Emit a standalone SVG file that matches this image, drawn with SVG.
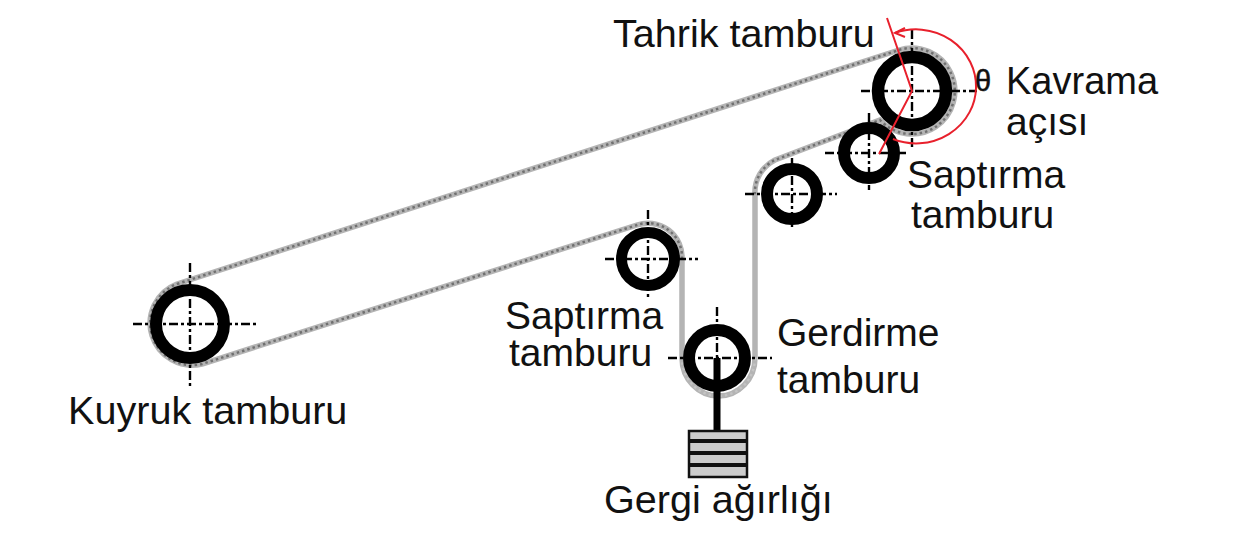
<svg xmlns="http://www.w3.org/2000/svg" width="1233" height="541" viewBox="0 0 1233 541">
<style>
text{font-family:"Liberation Sans",Arial,sans-serif;font-size:39px;fill:#111}
.wide{font-size:39.6px}
.narrow{font-size:38px}
.belt{fill:none;stroke:#b4b4b4;stroke-width:5.500}
.twist{fill:none;stroke:#707070;stroke-width:2.500;stroke-dasharray:2.500 3}
.ring{fill:#fff;stroke:#000}
.axis{stroke:#000;stroke-width:2.400;stroke-dasharray:9 3 3 3;fill:none}
.red{fill:none;stroke:#e8202c;stroke-width:2}
</style>
<rect width="1233" height="541" fill="#fff"/>
<g id="connectors">
<path id="belt" class="belt" d="M177 284L899 50A43 43 0 1 1 880 120L775 160A36 36 0 0 0 755 195L755 358A36.500 38 0 0 1 682 358L682 259A34 34 0 0 0 637 225L202 364A42 42 0 0 1 177 284Z"/>
<path class="twist" d="M177 284L899 50A43 43 0 1 1 880 120L775 160A36 36 0 0 0 755 195M682 259A34 34 0 0 0 637 225L202 364A42 42 0 0 1 177 284"/>
<path class="twist" style="stroke:#c4c4c4" d="M755 358A36.500 38 0 0 1 682 358"/>
</g>
<g id="kuyruk-tamburu">
<circle class="ring" cx="190" cy="324" r="34" stroke-width="12"/>
<path class="axis" d="M133 324H257M190 263V388"/>
<text class="wide" x="68" y="424">Kuyruk tamburu</text>
</g>
<g id="tahrik-tamburu">
<circle class="ring" cx="912" cy="91" r="34" stroke-width="12.500"/>
<path class="axis" d="M861 91H977M912 30V150"/>
<text class="wide" x="613" y="47">Tahrik tamburu</text>
</g>
<g id="saptirma-tamburu-1">
<circle class="ring" cx="869" cy="153" r="25" stroke-width="12"/>
<path class="axis" d="M825 153H907M869 113V190"/>
<text x="907" y="188">Saptırma</text>
<text x="911" y="228">tamburu</text>
</g>
<g id="saptirma-tamburu-2">
<circle class="ring" cx="792" cy="194" r="25" stroke-width="12"/>
<path class="axis" d="M745 194H837M792 158V230"/>
</g>
<g id="saptirma-tamburu-3">
<circle class="ring" cx="648" cy="259" r="26.500" stroke-width="11"/>
<path class="axis" d="M605 259H698M648 210V297"/>
<text x="505" y="329">Saptırma</text>
<text x="509" y="366">tamburu</text>
</g>
<g id="gerdirme-tamburu">
<circle class="ring" cx="717" cy="358" r="28" stroke-width="12"/>
<path class="axis" d="M668 358H772M717 307V358"/>
<text x="777" y="346">Gerdirme</text>
<text x="777" y="393">tamburu</text>
</g>
<g id="gergi-agirligi">
<path d="M717 358V431" stroke="#000" stroke-width="7" fill="none"/>
<rect x="689" y="431" width="58" height="46" fill="#ccc" stroke="#111" stroke-width="2.500"/>
<path d="M689 441H747M689 453H747M689 465H747" stroke="#111" stroke-width="4"/>
<text class="wide" x="604" y="513">Gergi ağırlığı</text>
</g>
<g id="kavrama-acisi">
<path class="red" d="M887 18L912 91L879 154"/>
<path class="red" d="M895 33A60 57 0 1 1 893 139"/>
<path class="red" d="M905 28L895 33L905 37"/>
<text x="975" y="91" style="font-size:29px;stroke:#111;stroke-width:.5">θ</text>
<text class="narrow" x="1006" y="94">Kavrama</text>
<text x="1006" y="135">açısı</text>
</g>
</svg>
